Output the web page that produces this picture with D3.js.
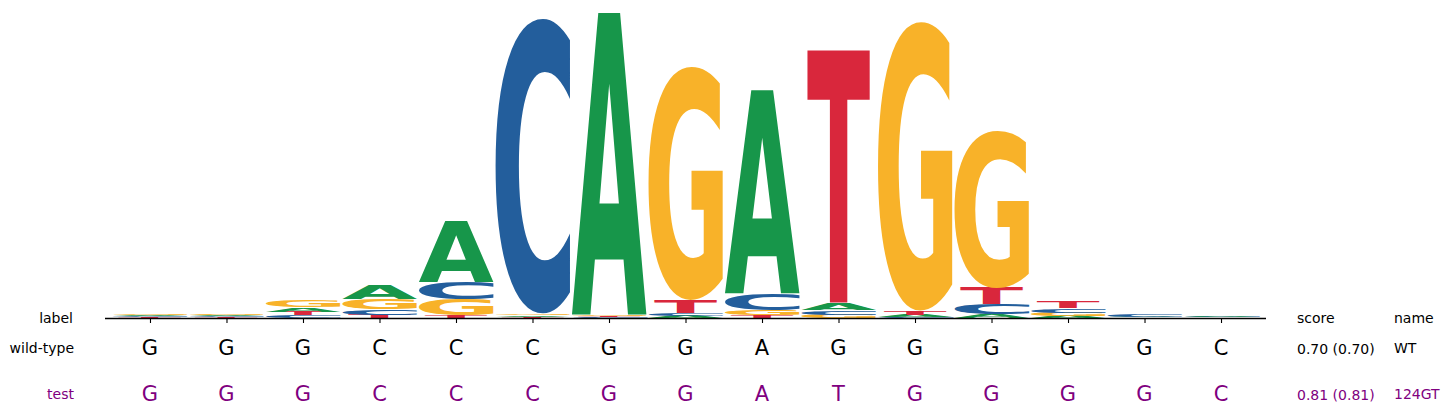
<!DOCTYPE html>
<html>
<head>
<meta charset="utf-8">
<script src="https://cdn.jsdelivr.net/npm/d3@7"></script>
<style>
    body { margin: 0; background: #fff; }
    #logo { width: 1448px; height: 415px; }
</style>
</head>
<body>
<div id="logo"></div>
<script>

// positions of the motif
const positions = [1, 2, 3, 4, 5, 6, 7, 8, 9, 10, 11, 12, 13, 14, 15];

// letter heights in bits
const heightA = [0.008, 0.008, 0.027, 0.093, 0.400, 0.009, 1.960, 0.014, 1.320, 0.039, 0.017, 0.022, 0.013, 0.004, 0.007];
const heightC = [0.007, 0.006, 0.017, 0.032, 0.110, 1.920, 0.004, 0.018, 0.108, 0.028, 0.004, 0.067, 0.028, 0.013, 0.004];
const heightG = [0.010, 0.009, 0.047, 0.071, 0.105, 0.011, 0.010, 1.520, 0.033, 0.022, 1.880, 1.020, 0.022, 0.003, 0.003];
const heightT = [0.006, 0.005, 0.025, 0.022, 0.018, 0.008, 0.009, 0.084, 0.020, 1.650, 0.026, 0.108, 0.045, 0.002, 0.002];

// sequences below the logo
const seqLabels = ["wild-type", "test"];
const seqStrings = ["GGGCCCGGAGGGGGC", "GGGCCCGGATGGGGC"];
const seqScores = ["0.70 (0.70)", "0.81 (0.81)"];
const seqNames = ["WT", "124GT"];

const letterColors = {A: "#17964a", C: "#235e9c", G: "#f8b229", T: "#d9273c"};
// T is not stretched as wide as the other letters
const letterWidth = {A: 1, C: 1, G: 1, T: 0.84};


/* * * * * * * * * * * * * *
*      class LogoVis        *
* * * * * * * * * * * * * */

class LogoVis {

    constructor(parentElement){
        this.parentElement = parentElement;
        this.initVis();
    }

    initVis(){
        let vis = this;

        vis.width = 1448;
        vis.height = 415;

        vis.svg = d3.select("#" + vis.parentElement).append("svg")
            .attr("width", vis.width)
            .attr("height", vis.height)
            .style("font-family", "'DejaVu Sans', sans-serif");

        // scales
        vis.x = d3.scaleLinear()
            .domain([0.412, 15.588])
            .range([105, 1266]);

        vis.y = d3.scaleLinear()
            .domain([0, 2])
            .range([318, 10]);

        // canvas used to measure glyph ink bounds
        vis.ctx = document.createElement("canvas").getContext("2d");
        vis.fontSize = 200;
        vis.ctx.font = `bold ${vis.fontSize}px 'DejaVu Sans'`;

        vis.wrangleData();
    }

    wrangleData(){
        let vis = this;

        vis.stacks = [];
        positions.forEach((p, i) => {
            let letters = [
                {letter: "A", value: heightA[i]},
                {letter: "C", value: heightC[i]},
                {letter: "G", value: heightG[i]},
                {letter: "T", value: heightT[i]}
            ].sort((a, b) => a.value - b.value);

            let floor = 0;
            letters.forEach(l => {
                vis.stacks.push({pos: p, letter: l.letter, y0: floor, y1: floor + l.value});
                floor += l.value;
            });
        });

        vis.updateVis();
    }

    glyphTransform(d){
        let vis = this;
        let m = vis.ctx.measureText(d.letter);
        let left = -m.actualBoundingBoxLeft;
        let right = m.actualBoundingBoxRight;
        let top = -m.actualBoundingBoxAscent;
        let bottom = m.actualBoundingBoxDescent;

        let bw = vis.x(1) - vis.x(0);
        let w = bw * 0.98 * letterWidth[d.letter];
        let x0 = vis.x(d.pos) - w / 2;
        let yTop = vis.y(d.y1);
        let h = vis.y(d.y0) - yTop;

        let sx = w / (right - left);
        let sy = h / (bottom - top);
        return `translate(${x0},${yTop}) scale(${sx},${sy}) translate(${-left},${-top})`;
    }

    updateVis(){
        let vis = this;

        // letters
        vis.svg.append("g")
            .attr("class", "glyphs")
            .selectAll(".glyph")
            .data(vis.stacks)
            .join("text")
            .attr("class", "glyph")
            .attr("font-size", vis.fontSize + "px")
            .attr("font-weight", "bold")
            .attr("fill", d => letterColors[d.letter])
            .attr("transform", d => vis.glyphTransform(d))
            .text(d => d.letter);

        // x axis without labels
        vis.xAxis = d3.axisBottom(vis.x)
            .tickValues(positions)
            .tickSize(5)
            .tickFormat("");

        vis.xAxisGroup = vis.svg.append("g")
            .attr("class", "x-axis")
            .attr("transform", "translate(0," + vis.y(0) + ")")
            .call(vis.xAxis);

        vis.xAxisGroup.select(".domain")
            .attr("d", `M${vis.x.range()[0]},0.5H${vis.x.range()[1]}`)
            .attr("stroke-width", 1.3);
        vis.xAxisGroup.selectAll(".tick line")
            .attr("stroke-width", 1.1);

        // header row
        let header = vis.svg.append("g").attr("class", "header")
            .attr("font-size", "14px")
            .attr("fill", "#000");
        header.append("text")
            .attr("x", 73).attr("y", 318)
            .attr("text-anchor", "end")
            .attr("dominant-baseline", "central")
            .text("label");
        header.append("text")
            .attr("x", 1297).attr("y", 318)
            .attr("dominant-baseline", "central")
            .text("score");
        header.append("text")
            .attr("x", 1394).attr("y", 318)
            .attr("dominant-baseline", "central")
            .text("name");

        // sequence rows
        let rowY = [348, 394];
        let rowColor = ["#000000", "#800080"];

        seqStrings.forEach((s, r) => {
            let row = vis.svg.append("g")
                .attr("class", "seq-row")
                .attr("fill", rowColor[r]);

            row.append("text")
                .attr("x", 74).attr("y", rowY[r])
                .attr("text-anchor", "end")
                .attr("dominant-baseline", "central")
                .attr("font-size", "14px")
                .text(seqLabels[r]);

            row.selectAll(".seq-letter")
                .data(s.split(""))
                .join("text")
                .attr("class", "seq-letter")
                .attr("x", (d, i) => vis.x(positions[i]))
                .attr("y", rowY[r])
                .attr("text-anchor", "middle")
                .attr("dominant-baseline", "central")
                .attr("font-size", "21px")
                .text(d => d);

            row.append("text")
                .attr("x", 1297).attr("y", rowY[r] + 1)
                .attr("dominant-baseline", "central")
                .attr("font-size", "14px")
                .text(seqScores[r]);

            row.append("text")
                .attr("x", 1394).attr("y", rowY[r])
                .attr("dominant-baseline", "central")
                .attr("font-size", "14px")
                .text(seqNames[r]);
        });
    }
}

new LogoVis("logo");

</script>
</body>
</html>
